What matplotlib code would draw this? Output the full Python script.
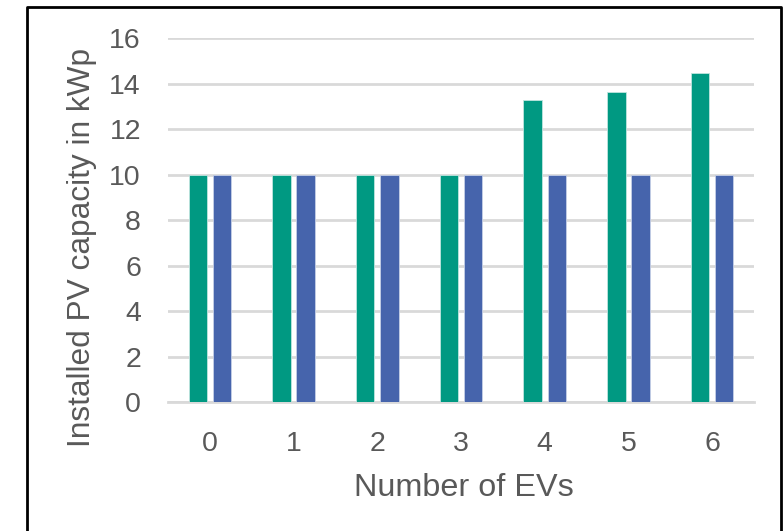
import matplotlib
matplotlib.use("Agg")
import matplotlib.pyplot as plt
from matplotlib.lines import Line2D
import numpy as np

categories = ["0", "1", "2", "3", "4", "5", "6"]
pv_green = [10, 10, 10, 10, 13.29, 13.64, 14.46]
pv_blue = [10, 10, 10, 10, 10, 10, 10]
y_ticks = [0, 2, 4, 6, 8, 10, 12, 14, 16]

plt.rcParams["font.family"] = ["Liberation Sans", "DejaVu Sans"]
text_color = "#595959"
grid_color = "#D9D9D9"

fig = plt.figure(figsize=(7.84, 5.31), dpi=100)
ax = fig.add_axes([168 / 784, 1 - 402.3 / 531, (754 - 168) / 784, (402.3 - 38.1) / 531])

x = np.arange(len(categories))
w = 0.22
off = 0.144
ax.bar(x - off, pv_green, width=w, color="#009982", edgecolor="#BFE5DF", linewidth=0.6, zorder=3)
ax.bar(x + off, pv_blue, width=w, color="#4664AC", edgecolor="#C5CFE6", linewidth=0.6, zorder=3)

ax.set_xlim(-0.5, len(categories) - 0.5)
ax.set_ylim(0, 16)
ax.set_yticks(y_ticks)
ax.set_xticks(x)
ax.set_xticklabels(categories)
ax.yaxis.grid(True, color=grid_color, linewidth=2.0, zorder=0)
ax.set_axisbelow(True)
for s in ["top", "right", "left"]:
    ax.spines[s].set_visible(False)
ax.spines["bottom"].set_color(grid_color)
ax.spines["bottom"].set_linewidth(2.0)
ax.tick_params(axis="both", length=0, labelsize=20.5, colors=text_color)
ax.tick_params(axis="y", pad=19.5)
ax.tick_params(axis="x", pad=20.5)

ax.set_xlabel("Number of EVs", fontsize=23.3, color=text_color)
ax.set_ylabel("Installed PV capacity in kWp", fontsize=22.8, color=text_color)
ax.xaxis.set_label_coords(0.505, -0.194)
ax.yaxis.set_label_coords(-0.121, 0.426)

# outer frame (left, top, right edges)
fx0, fx1 = 27 / 784, 781 / 784
fy1 = 1 - 7 / 531
frame = Line2D([fx0, fx0, fx1, fx1], [-0.05, fy1, fy1, -0.05],
               transform=fig.transFigure, color="black", linewidth=2.0)
fig.add_artist(frame)

fig.savefig("out.png", dpi=100)
